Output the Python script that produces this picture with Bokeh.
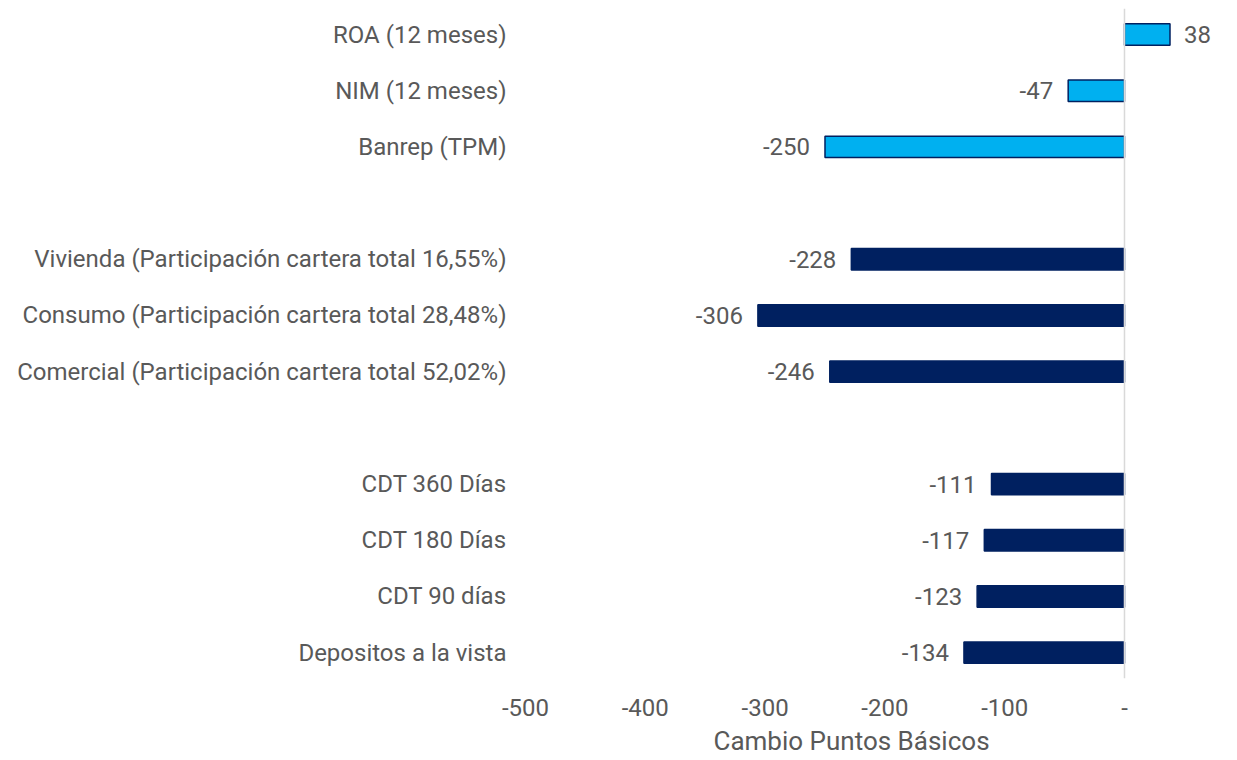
from bokeh.plotting import figure
from bokeh.models import ColumnDataSource, Range1d, FixedTicker, Span, Title
from bokeh.core.properties import value
from bokeh.embed import file_html
from bokeh.resources import INLINE

categories = ["ROA (12 meses)", "NIM (12 meses)", "Banrep (TPM)",
              "Vivienda (Participación cartera total 16,55%)",
              "Consumo (Participación cartera total 28,48%)",
              "Comercial (Participación cartera total 52,02%)",
              "CDT 360 Días", "CDT 180 Días", "CDT 90 días", "Depositos a la vista"]
values = [38, -47, -250, -228, -306, -246, -111, -117, -123, -134]
rows = [0, 1, 2, 4, 5, 6, 8, 9, 10, 11]
group = ["a", "a", "a", "b", "b", "b", "b", "b", "b", "b"]
x_ticks = [-500, -400, -300, -200, -100, 0]
x_tick_labels = ["-500", "-400", "-300", "-200", "-100", "-"]
x_title = "Cambio Puntos Básicos"

LIGHT = "#00B0F0"
NAVY = "#002060"
GREY = "#595959"
FONT = "Roboto"

fill = [LIGHT if g == "a" else NAVY for g in group]
align = ["left" if v >= 0 else "right" for v in values]
xoff = [14 if v >= 0 else -15 for v in values]

src = ColumnDataSource(dict(y=rows, v=values, fill=fill, lab=[str(v) for v in values],
                            align=align, xoff=xoff))

p = figure(width=1230, height=760, output_backend="svg", toolbar_location=None,
           x_range=Range1d(-500, 88.5), y_range=Range1d(11.46, -0.463),
           min_border_left=525, min_border_top=8, min_border_right=0, min_border_bottom=0)
p.outline_line_color = None
p.grid.grid_line_color = None

p.hbar(y="y", left=0, right="v", height=0.38, fill_color="fill", line_color=NAVY,
       line_width=1.5, source=src)
p.add_layout(Span(location=0, dimension="height", line_color="#D9D9D9", line_width=1.5))

p.text(x="v", y="y", text="lab", text_align="align", x_offset="xoff", text_baseline="middle",
       text_color=GREY, text_font_size="24px", text_font=value(FONT), source=src)

# y axis
p.yaxis.ticker = FixedTicker(ticks=rows)
p.yaxis.major_label_overrides = {r: c for r, c in zip(rows, categories)}
p.yaxis.axis_line_color = None
p.yaxis.major_tick_line_color = None
p.yaxis.minor_tick_line_color = None
p.yaxis.major_label_standoff = 13
p.yaxis.major_label_text_font = FONT
p.yaxis.major_label_text_font_size = "24px"
p.yaxis.major_label_text_color = GREY

# x axis
p.xaxis.ticker = FixedTicker(ticks=x_ticks)
p.xaxis.major_label_overrides = {t: l for t, l in zip(x_ticks, x_tick_labels)}
p.xaxis.axis_line_color = None
p.xaxis.major_tick_line_color = None
p.xaxis.minor_tick_line_color = None
p.xaxis.major_label_standoff = 14
p.xaxis.major_label_text_font = FONT
p.xaxis.major_label_text_font_size = "24px"
p.xaxis.major_label_text_color = GREY

p.add_layout(Title(text=x_title, align="left", offset=188, text_font=FONT,
                   text_font_size="26px", text_font_style="normal", text_color=GREY,
                   standoff=10), "below")

open("out.html", "w").write(file_html(p, INLINE))
